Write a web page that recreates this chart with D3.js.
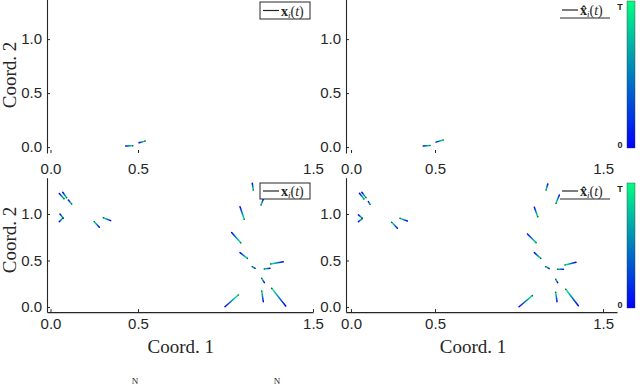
<!DOCTYPE html>
<html>
<head>
<meta charset="utf-8">
<script src="https://cdn.jsdelivr.net/npm/d3@7"></script>
<style>
  html, body { margin: 0; padding: 0; background: #fff; }
  svg { display: block; }
</style>
</head>
<body>
<svg id="chart" width="640" height="385"></svg>
<script>
// ---------------- DATA ----------------
const xTicks = [0, 0.5, 1.5];
const yTicks = [0, 0.5, 1.0];
const xTickLabels = ["0.0", "0.5", "1.5"];
const yTickLabels = ["0.0", "0.5", "1.0"];
const colorTicks = ["0", "T"];

// top panels: few short trajectories (start = t0, end = T)
const topTrueStartX = [0.43, 0.506];
const topTrueStartY = [0.010, 0.040];
const topTrueEndX   = [0.47, 0.540];
const topTrueEndY   = [0.012, 0.055];

const topEstStartX = [0.43, 0.506];
const topEstStartY = [0.010, 0.046];
const topEstEndX   = [0.47, 0.548];
const topEstEndY   = [0.015, 0.065];

// bottom-left: true trajectories x_i(t)
const trueStartX = [0.050, 0.070, 0.102, 0.054, 0.050, 0.279, 0.344, 1.153, 1.216, 1.083, 1.035, 1.083, 1.169, 1.254, 1.330, 1.222, 0.997, 1.216, 1.344];
const trueStartY = [1.220, 1.233, 1.150, 1.000, 0.917, 0.857, 0.928, 1.330, 1.158, 1.078, 0.800, 0.584, 0.416, 0.416, 0.487, 0.262, 0.003, 0.057, 0.010];
const trueEndX   = [0.077, 0.092, 0.121, 0.073, 0.070, 0.250, 0.302, 1.159, 1.203, 1.107, 1.087, 1.125, 1.153, 1.222, 1.258, 1.207, 1.073, 1.207, 1.264];
const trueEndY   = [1.165, 1.175, 1.107, 0.955, 0.955, 0.917, 0.960, 1.258, 1.097, 0.943, 0.690, 0.523, 0.433, 0.408, 0.462, 0.308, 0.129, 0.172, 0.200];

// bottom-right: estimated trajectories x^_i(t)
const estStartX = [0.050, 0.064, 0.103, 0.044, 0.044, 0.276, 0.335, 1.171, 1.240, 1.091, 1.050, 1.091, 1.179, 1.264, 1.339, 1.230, 1.000, 1.226, 1.353];
const estStartY = [1.222, 1.233, 1.133, 0.990, 0.917, 0.846, 0.925, 1.323, 1.204, 1.072, 0.785, 0.584, 0.412, 0.405, 0.480, 0.262, 0.003, 0.057, 0.014];
const estEndX   = [0.077, 0.089, 0.113, 0.066, 0.064, 0.242, 0.292, 1.161, 1.220, 1.111, 1.101, 1.129, 1.159, 1.230, 1.274, 1.218, 1.079, 1.218, 1.278];
const estEndY   = [1.161, 1.176, 1.104, 0.955, 0.945, 0.910, 0.953, 1.258, 1.115, 0.971, 0.692, 0.523, 0.433, 0.405, 0.452, 0.297, 0.122, 0.158, 0.190];

// ---------------- DRAWING ----------------
const svg = d3.select("#chart");
const defs = svg.append("defs");
const ink = "#262626";
const cStart = "#0000ff", cEnd = "#00ff80";   // winter colormap
const timeColor = d3.scaleLinear().domain([0, 1]).range([cStart, cEnd]).interpolate(d3.interpolateRgb);

const panels = [
  { id: "tl", xr: [47, 313],  xd: [-0.02, 1.5],   yr: [153, -3],     yd: [-0.055, 1.39], top: true,  est: false,
    sx: topTrueStartX, sy: topTrueStartY, ex: topTrueEndX, ey: topTrueEndY },
  { id: "tr", xr: [346, 617], xd: [-0.03, 1.583], yr: [153, -3],     yd: [-0.055, 1.39], top: true,  est: true,
    sx: topEstStartX, sy: topEstStartY, ex: topEstEndX, ey: topEstEndY },
  { id: "bl", xr: [47, 313],  xd: [-0.02, 1.5],   yr: [312.1, 177.7], yd: [-0.055, 1.39], top: false, est: false,
    sx: trueStartX, sy: trueStartY, ex: trueEndX, ey: trueEndY },
  { id: "br", xr: [346, 617], xd: [-0.03, 1.583], yr: [312.1, 177.7], yd: [-0.055, 1.39], top: false, est: true,
    sx: estStartX, sy: estStartY, ex: estEndX, ey: estEndY }
];

panels.forEach(p => {
  const x = d3.scaleLinear().domain(p.xd).range(p.xr);
  const y = d3.scaleLinear().domain(p.yd).range(p.yr);
  const g = svg.append("g").attr("class", "panel-" + p.id);

  // trajectories
  const segs = p.sx.map((v, i) => ({ x0: p.sx[i], y0: p.sy[i], x1: p.ex[i], y1: p.ey[i], i }));
  segs.forEach(s => {
    const gid = "grad-" + p.id + "-" + s.i;
    const lg = defs.append("linearGradient").attr("id", gid)
      .attr("gradientUnits", "userSpaceOnUse")
      .attr("x1", x(s.x0)).attr("y1", y(s.y0))
      .attr("x2", x(s.x1)).attr("y2", y(s.y1));
    lg.append("stop").attr("offset", "0%").attr("stop-color", timeColor(0));
    lg.append("stop").attr("offset", "100%").attr("stop-color", timeColor(1));
  });
  g.selectAll("line.traj").data(segs).join("line").attr("class", "traj")
    .attr("x1", d => x(d.x0)).attr("y1", d => y(d.y0))
    .attr("x2", d => x(d.x1)).attr("y2", d => y(d.y1))
    .attr("stroke", d => "url(#grad-" + p.id + "-" + d.i + ")")
    .attr("stroke-width", 1.5).attr("stroke-linecap", "round");
  g.selectAll("circle.end").data(segs).join("circle").attr("class", "end")
    .attr("cx", d => x(d.x1)).attr("cy", d => y(d.y1)).attr("r", 0.8)
    .attr("fill", "#1a1a1a").attr("opacity", 0.7);

  // y axis
  const yAxis = d3.axisLeft(y).tickValues(yTicks)
    .tickFormat((d, i) => yTickLabels[i])
    .tickSizeInner(-3).tickSizeOuter(0).tickPadding(5);
  const gy = g.append("g").attr("transform", `translate(${p.xr[0]},0)`).call(yAxis);
  gy.select(".domain").attr("stroke", ink).attr("stroke-width", 1.1);
  gy.selectAll(".tick line").attr("stroke", ink);
  gy.selectAll(".tick text").attr("fill", ink)
    .style("font-family", "'Liberation Sans', Arial, sans-serif").style("font-size", "15px");

  // x axis
  const xAxis = d3.axisBottom(x).tickValues(xTicks)
    .tickFormat((d, i) => xTickLabels[i])
    .tickSizeInner(-3).tickSizeOuter(0).tickPadding(p.top ? 10 : 6);
  const gx = g.append("g").attr("transform", `translate(0,${p.yr[0]})`).call(xAxis);
  gx.select(".domain").attr("stroke", ink).attr("stroke-width", 1.1);
  if (p.top) gx.select(".domain").remove();
  gx.selectAll(".tick line").attr("stroke", ink)
    .attr("opacity", d => (p.top && d > 1) ? 0 : 1);
  gx.selectAll(".tick text").attr("fill", ink)
    .style("font-family", "'Liberation Sans', Arial, sans-serif").style("font-size", "15px");

  // axis labels
  if (!p.est) {
    g.append("text").attr("transform", `translate(16,${p.top ? 75 : 240}) rotate(-90)`)
      .attr("text-anchor", "middle").attr("fill", ink)
      .style("font-family", "'Liberation Serif', 'Times New Roman', serif").style("font-size", "19px")
      .text("Coord. 2");
  }
  if (!p.top) {
    g.append("text").attr("x", (x(0) + x(1.5)) / 2 - (p.est ? 4 : 1)).attr("y", 353)
      .attr("text-anchor", "middle").attr("fill", ink)
      .style("font-family", "'Liberation Serif', 'Times New Roman', serif").style("font-size", "19px")
      .text("Coord. 1");
  }

  // legend
  const ly = p.top ? 2 : 183;
  const lh = p.top ? 17 : 16;
  const serif = "'Liberation Serif', 'Times New Roman', serif";
  if (!p.est) {
    g.append("rect").attr("x", 260).attr("y", ly).attr("width", 50).attr("height", lh)
      .attr("fill", "#fff").attr("stroke", ink).attr("stroke-width", 1);
    g.append("line").attr("x1", 263).attr("x2", 279).attr("y1", ly + lh / 2).attr("y2", ly + lh / 2)
      .attr("stroke", ink).attr("stroke-width", 1.2);
    const t = g.append("text").attr("x", 281).attr("y", ly + lh / 2 + 5).attr("fill", ink)
      .style("font-family", serif).style("font-size", "14px");
    t.append("tspan").attr("font-weight", "bold").text("x");
    t.append("tspan").attr("font-style", "italic").attr("font-size", "9px").attr("dy", 2).text("i");
    t.append("tspan").attr("dy", -2).text("(");
    t.append("tspan").attr("font-style", "italic").text("t");
    t.append("tspan").text(")");
  } else {
    const my = p.top ? 10 : 191;
    g.append("line").attr("x1", 562).attr("x2", 578).attr("y1", my).attr("y2", my)
      .attr("stroke", ink).attr("stroke-width", 1.2);
    const t = g.append("text").attr("x", 580).attr("y", my + 5).attr("fill", ink)
      .style("font-family", serif).style("font-size", "14px");
    t.append("tspan").attr("font-weight", "bold").text("x\u0302");
    t.append("tspan").attr("font-style", "italic").attr("font-size", "9px").attr("dy", 2).text("i");
    t.append("tspan").attr("dy", -2).text("(");
    t.append("tspan").attr("font-style", "italic").text("t");
    t.append("tspan").text(")");
    g.append("line").attr("x1", 560).attr("x2", 610).attr("y1", my + 8).attr("y2", my + 8)
      .attr("stroke", ink).attr("stroke-width", 1);

    // colorbar
    const cbTop = p.top ? 1 : 183, cbBot = p.top ? 148 : 308;
    const cid = "cb-" + p.id;
    const cg = defs.append("linearGradient").attr("id", cid)
      .attr("x1", 0).attr("y1", 1).attr("x2", 0).attr("y2", 0);
    cg.append("stop").attr("offset", "0%").attr("stop-color", timeColor(0));
    cg.append("stop").attr("offset", "100%").attr("stop-color", timeColor(1));
    g.append("rect").attr("x", 627).attr("y", cbTop).attr("width", 8).attr("height", cbBot - cbTop)
      .attr("fill", `url(#${cid})`).attr("stroke", "#333").attr("stroke-width", 0.4);
    const cs = d3.scaleLinear().domain([0, 1]).range([cbBot - 3, cbTop + 6]);
    g.selectAll("text.cbl").data(colorTicks).join("text").attr("class", "cbl")
      .attr("x", 620).attr("y", (d, i) => cs(i) + 3).attr("text-anchor", "middle")
      .attr("fill", ink).style("font-family", "'Liberation Sans', Arial, sans-serif")
      .style("font-size", "9px").style("font-weight", "bold").text(d => d);
  }
});

// caption letters at the bottom edge
svg.selectAll("text.cap").data(["N", "N"]).join("text").attr("class", "cap")
  .attr("x", (d, i) => i === 0 ? 135 : 277).attr("y", 384).attr("text-anchor", "middle")
  .attr("fill", ink).style("font-family", "'Liberation Serif', serif").style("font-size", "9px")
  .text(d => d);
</script>
</body>
</html>
